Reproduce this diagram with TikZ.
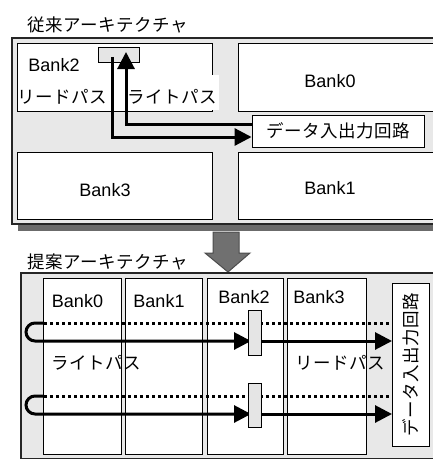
\documentclass[tikz,border=0pt]{standalone}
\usepackage{fontspec}
\setmainfont{Liberation Sans}
\newfontfamily\jp[LetterSpace=3]{Noto Sans CJK JP}
\usetikzlibrary{arrows.meta}
\definecolor{bggray}{gray}{0.91}
\definecolor{rectgray}{gray}{0.9}
\definecolor{shadowgray}{gray}{0.42}
\definecolor{arrowfill}{gray}{0.44}
\definecolor{arrowedge}{gray}{0.3}
\begin{document}
\begin{tikzpicture}[x=1pt,y=-1pt,
  bank/.style={draw=black, fill=white, line width=0.9pt, inner sep=0pt, anchor=north west},
  outer/.style={draw=black!85, fill=bggray, line width=1.4pt},
  srect/.style={draw=black, fill=rectgray, line width=1.2pt, inner sep=0pt, anchor=north west},
  lat/.style={font=\fontsize{18}{20}\selectfont, inner sep=0pt},
  jpt/.style={font=\jp\fontsize{17.5}{20}\selectfont, inner sep=0pt},
  pathline/.style={line width=3pt},
  dotline/.style={line width=3pt, dash pattern=on 3pt off 3pt},
  tip/.style={-{Triangle[length=17pt,width=17pt]}}
]
\useasboundingbox (0,0) rectangle (433,460);

% ---------- top: conventional architecture ----------
\node[jpt, anchor=west] (t1) at (27,25) {従来アーキテクチャ};
\fill[shadowgray] (18,225) rectangle (440,231);
\draw[outer] (12,38) rectangle (440,224);

\node[bank, minimum width=195, minimum height=68] (tb2) at (17,43) {};
\node[bank, minimum width=200, minimum height=68] (tb0) at (238,43) {};
\node[bank, minimum width=195, minimum height=67] (tb3) at (17,152) {};
\node[bank, minimum width=200, minimum height=67] (tb1) at (238,152) {};

\fill[white] (122,75) rectangle (219,109.5);

\node[lat] (lb2) at (54,65) {Bank2};
\node[lat] (lb0) at (330,81) {Bank0};
\node[lat] (lb3) at (105,190) {Bank3};
\node[lat] (lb1) at (330,188) {Bank1};
\node[jpt] (rp1) at (62,97) {リードパス};
\node[jpt] (wp1) at (172,97) {ライトパス};

\node[srect, minimum width=41, minimum height=15] (sr) at (98,47) {};
\node[bank, jpt, anchor=center, minimum width=172, minimum height=32] (io) at (338,131) {データ入出力回路};

\coordinate (rs) at (112,57);
\coordinate (rk) at (112,137);
\coordinate (ws) at (252,124);
\coordinate (wk) at (126,52);
\draw[pathline, tip] (rs) |- (io.west |- rk);
\draw[pathline, tip] (ws) -| (wk);

% ---------- transition arrow ----------
\draw[fill=arrowfill, draw=arrowedge, line width=1pt]
  (213,232) -- (239,232) -- (239,253) -- (250,253) -- (228,272) -- (205,253) -- (213,253) -- cycle;

% ---------- bottom: proposed architecture ----------
\node[jpt, anchor=west] (t2) at (27,262) {提案アーキテクチャ};
\draw[outer] (21,273) rectangle (440,458.5);

\node[bank, minimum width=78, minimum height=176] (pb0) at (43,278) {};
\node[bank, minimum width=77, minimum height=176] (pb1) at (125,278) {};
\node[bank, minimum width=76, minimum height=176] (pb2) at (207,278) {};
\node[bank, minimum width=79, minimum height=176] (pb3) at (287,278) {};
\node[bank, minimum width=37, minimum height=163] (io2) at (392,283) {};
\node[jpt, rotate=90] (io2l) at (io2.center) {データ入出力回路};

\node[lat] (pl0) at (77.5,301) {Bank0};
\node[lat] (pl1) at (159,301) {Bank1};
\node[lat] (pl2) at (244,297) {Bank2};
\node[lat] (pl3) at (319,297) {Bank3};
\node[jpt] (wp2) at (96,363) {ライトパス};
\node[jpt] (rp2) at (340,363) {リードパス};

% upper pair of paths
\coordinate (ua) at (44,323);
\coordinate (ub) at (35,323);
\coordinate (um) at (251,341);
\draw[dotline] (ua) -- (io2.west |- ua);
\draw[pathline, tip] (ua) -- (ub) arc[start angle=270, end angle=90, radius=9] -- (um);
\draw[pathline, tip] (um) -- (io2.west |- um);

% lower pair of paths
\coordinate (la) at (44,396);
\coordinate (lb) at (35,396);
\coordinate (lm) at (251,414);
\draw[dotline] (la) -- (io2.west |- la);
\draw[pathline, tip] (la) -- (lb) arc[start angle=270, end angle=90, radius=9] -- (lm);
\draw[pathline, tip] (lm) -- (io2.west |- lm);

\node[srect, minimum width=13, minimum height=45] (sr1) at (248,310) {};
\node[srect, minimum width=13, minimum height=44] (sr2) at (248,383) {};
\end{tikzpicture}
\end{document}
